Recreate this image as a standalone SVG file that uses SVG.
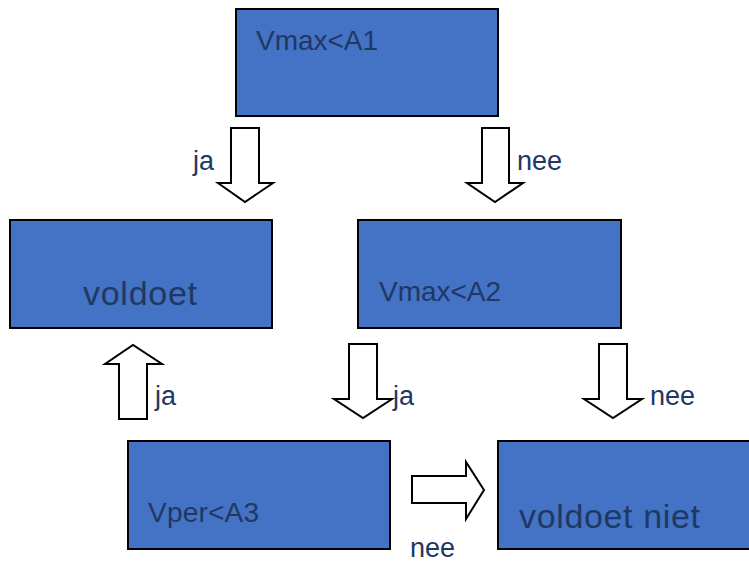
<svg xmlns="http://www.w3.org/2000/svg" width="749" height="564" viewBox="0 0 749 564">
<style>
.box{fill:#4472C4;stroke:#000;stroke-width:2}
.bt{font-family:"Liberation Sans",Arial,sans-serif;fill:#1F3864;font-size:28px}
.big{font-size:34px}
.lbl{font-family:"Liberation Sans",Arial,sans-serif;fill:#203864;font-size:27px}
.arr{fill:#fff;stroke:#000;stroke-width:2;stroke-linejoin:miter}
</style>
<rect width="749" height="564" fill="#fff"/>
<g id="connectors">
<polygon class="arr" points="231,128 259,128 259,183 273,183 245,202 218,183 231,183"/>
<polygon class="arr" points="482,128 509,128 509,183 523,183 495,202 467,183 482,183"/>
<polygon class="arr" points="119,419 147,419 147,364 162,364 133,345 105,364 119,364"/>
<polygon class="arr" points="349,344 377,344 377,399 392,399 363,418 334,399 349,399"/>
<polygon class="arr" points="599,344 627,344 627,399 642,399 613,418 584,399 599,399"/>
<polygon class="arr" points="412,476 466,476 466,462 484,490 466,519 466,503 412,503"/>
<text class="lbl" x="193" y="170">ja</text>
<text class="lbl" x="517" y="170">nee</text>
<text class="lbl" x="155" y="405">ja</text>
<text class="lbl" x="393" y="405">ja</text>
<text class="lbl" x="650" y="405">nee</text>
<text class="lbl" x="410" y="557">nee</text>
</g>
<g id="n1">
<rect class="box" x="236" y="9" width="262" height="107"/>
<text class="bt" x="256" y="50" textLength="122">Vmax&lt;A1</text>
</g>
<g id="n2">
<rect class="box" x="10" y="220" width="262" height="108"/>
<text class="bt big" x="83" y="305" textLength="114">voldoet</text>
</g>
<g id="n3">
<rect class="box" x="358" y="220" width="263" height="108"/>
<text class="bt" x="379" y="301" textLength="122">Vmax&lt;A2</text>
</g>
<g id="n4">
<rect class="box" x="128" y="441" width="262" height="108"/>
<text class="bt" x="148" y="522" textLength="111">Vper&lt;A3</text>
</g>
<g id="n5">
<rect class="box" x="498" y="441" width="254" height="108"/>
<text class="bt big" x="519" y="528" textLength="181">voldoet niet</text>
</g>
</svg>
